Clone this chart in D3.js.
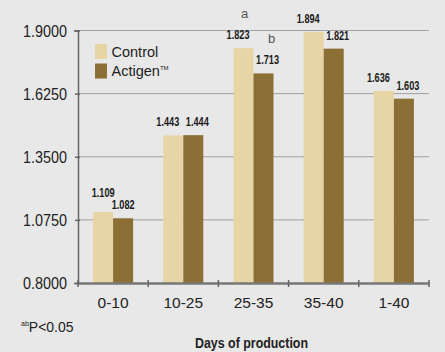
<!DOCTYPE html>
<html><head><meta charset="utf-8">
<script src="https://cdn.jsdelivr.net/npm/d3@7"></script>
<style>
html,body{margin:0;padding:0;background:#e8e8e8;}
svg{display:block;}
</style></head>
<body>
<svg id="chart" width="445" height="352"></svg>
<script>
const categories = ["0-10", "10-25", "25-35", "35-40", "1-40"];
const seriesNames = ["Control", "Actigen"];
const controlValues = [1.109, 1.443, 1.823, 1.894, 1.636];
const actigenValues = [1.082, 1.444, 1.713, 1.821, 1.603];
const yTicks = [0.8, 1.075, 1.35, 1.625, 1.9];
const sigLetters = [["", ""], ["", ""], ["a", "b"], ["", ""], ["", ""]];
const stackedLabelGroups = ["0-10"];
const colors = ["#e8d5a5", "#8b6f35"];

const svg = d3.select("#chart");
const margin = {left: 78, right: 16, top: 30.5, bottom: 69};
const W = 445, H = 352;
const x = d3.scaleBand().domain(categories).range([margin.left, W - margin.right]);
const y = d3.scaleLinear().domain([0.8, 1.9]).range([H - margin.bottom, margin.top]);
const barW = 20;

svg.append("rect").attr("width", W).attr("height", H).attr("fill", "#e8e8e8");

// gridlines
svg.append("g").selectAll("line").data(yTicks.slice(1)).join("line")
  .attr("x1", margin.left).attr("x2", W - margin.right)
  .attr("y1", d => y(d)).attr("y2", d => y(d))
  .attr("stroke", "#a0a0a0").attr("stroke-width", 1);

const data = categories.map((c, i) => ({cat: c, vals: [controlValues[i], actigenValues[i]], sig: sigLetters[i]}));

const groups = svg.append("g").selectAll("g").data(data).join("g")
  .attr("transform", d => `translate(${x(d.cat) + x.bandwidth() / 2 - barW},0)`);

groups.selectAll("rect").data(d => d.vals).join("rect")
  .attr("x", (v, j) => j * barW)
  .attr("width", barW)
  .attr("y", v => y(v))
  .attr("height", v => y(0.8) - y(v))
  .attr("fill", (v, j) => colors[j]);

// value labels (horizontally condensed via scale transform)
const baseFont = "'Liberation Sans',Arial,sans-serif";
const labelWidth = 23;
groups.each(function(d) {
  const g = d3.select(this);
  const stacked = stackedLabelGroups.includes(d.cat);
  const yA = y(d.vals[1]) - 9;
  d.vals.forEach((v, j) => {
    let lx = j * barW + barW / 2 + (stacked ? 0 : (j === 0 ? -5.5 : 4));
    let ly = y(v) - 9;
    if (stacked && j === 0) ly = Math.min(ly, yA - 12);
    const t = g.append("text").attr("x", 0).attr("y", 0)
      .attr("text-anchor", "middle")
      .attr("font-family", baseFont).attr("font-weight", "bold")
      .attr("font-size", 13.5).attr("fill", "#1a1a1a")
      .text(v.toFixed(3));
    const nat = t.node().getComputedTextLength() || 33;
    t.attr("transform", `translate(${lx},${ly}) scale(${labelWidth / nat},1)`);
    if (d.sig[j]) {
      g.append("text").attr("x", lx + (j === 0 ? 6.5 : 4)).attr("y", ly - 21)
        .attr("text-anchor", "middle")
        .attr("font-family", baseFont)
        .attr("font-size", 13).attr("fill", "#555")
        .text(d.sig[j]);
    }
  });
});

// y axis
const yAxis = svg.append("g").attr("transform", `translate(${margin.left},0)`)
  .call(d3.axisLeft(y).tickValues(yTicks).tickFormat(d3.format(".4f")).tickSize(4).tickPadding(8));
yAxis.select(".domain").attr("stroke", "#666").attr("stroke-width", 1.5);
yAxis.selectAll(".tick line").attr("stroke", "#666").attr("stroke-width", 1.5).attr("x2", 2).attr("x1", -3);
yAxis.selectAll(".tick text").attr("font-family", baseFont)
  .attr("font-size", 17).attr("fill", "#222").attr("dy", "0.35em").attr("x", -11)
  .attr("textLength", 44).attr("lengthAdjust", "spacingAndGlyphs");

// x axis
const xAxis = svg.append("g").attr("transform", `translate(0,${y(0.8)})`)
  .call(d3.axisBottom(x).tickSize(0).tickPadding(14));
xAxis.select(".domain").attr("stroke", "#777").attr("stroke-width", 2.5);
xAxis.selectAll(".tick text").attr("font-family", baseFont)
  .attr("font-size", 15.5).attr("fill", "#222");
const bounds = categories.map(c => x(c)).concat([x.range()[1]]);
xAxis.append("g").selectAll("line").data(bounds).join("line")
  .attr("x1", d => d).attr("x2", d => d).attr("y1", -3).attr("y2", 4)
  .attr("stroke", "#666").attr("stroke-width", 1.5);

// legend
const leg = svg.append("g");
seriesNames.forEach((name, i) => {
  leg.append("rect").attr("x", 95).attr("y", 44 + i * 19.5).attr("width", 12).attr("height", 15).attr("fill", colors[i]);
  const t = leg.append("text").attr("x", 111.5).attr("y", 56.5 + i * 19.5)
    .attr("font-family", baseFont).attr("font-size", 14.5).attr("fill", "#222")
    .text(name);
  if (i === 1) t.append("tspan").attr("font-size", 6).attr("dy", -6).text("TM");
});

// footnote
const fn = svg.append("text").attr("x", 21).attr("y", 331.5)
  .attr("font-family", baseFont).attr("fill", "#222").attr("font-size", 14);
fn.append("tspan").attr("font-size", 7).attr("dy", -6).text("ab");
fn.append("tspan").attr("dy", 6).text("P<0.05");

// x title
svg.append("text").attr("x", 195).attr("y", 348)
  .attr("font-family", baseFont)
  .attr("font-weight", "bold").attr("font-size", 14.5).attr("fill", "#222")
  .attr("textLength", 113).attr("lengthAdjust", "spacingAndGlyphs")
  .text("Days of production");
</script>
</body></html>
